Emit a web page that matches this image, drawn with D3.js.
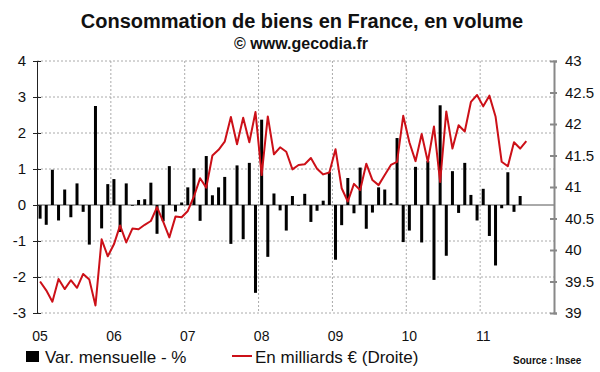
<!DOCTYPE html>
<html>
<head>
<meta charset="utf-8">
<script src="https://cdnjs.cloudflare.com/ajax/libs/d3/7.8.5/d3.min.js"></script>
<style>
  body { margin: 0; background: #fff; }
  svg { font-family: "Liberation Sans", Arial, sans-serif; }
</style>
</head>
<body>
<div class="chart"></div>
<script>
// monthly data, Jan 2005 onwards
var yearLabels = ["05", "06", "07", "08", "09", "10", "11"];

// Var. mensuelle - % (left axis), Jan 2005 - Jul 2011
var varMensuelle = [
  -0.38, -0.55, 0.98, -0.43, 0.43, -0.34, 0.60, -0.19, -1.10, 2.75, -0.65, 0.58,
  0.72, -0.75, 0.60, -0.02, 0.14, 0.16, 0.62, -0.80, -0.45, 1.08, -0.18, 0.07,
  0.49, 1.02, -0.44, 1.36, 0.27, 0.49, 0.78, -1.08, 1.10, -0.95, 1.17, -2.44,
  2.37, -1.44, 0.32, -0.15, -0.71, 0.25, -0.02, 0.31, -0.47, -0.16, 0.12, 0.92,
  -1.52, -0.56, 0.75, -0.23, 1.04, -0.66, -0.21, 0.49, 0.43, 0.05, 1.86, -1.03,
  -0.71, 1.06, -1.04, 1.22, -2.08, 2.77, -1.41, 0.94, -0.22, 1.17, 0.28, -0.43,
  0.45, -0.86, -1.68, -0.09, 0.91, -0.19, 0.25
];

// En milliards € (Droite), Jan 2005 - Aug 2011
var milliards = [
  39.50, 39.36, 39.18, 39.54, 39.38, 39.52, 39.40, 39.62, 39.53, 39.12, 40.17, 39.90,
  40.09, 40.39, 40.12, 40.34, 40.33, 40.40, 40.46, 40.68, 40.45, 40.20, 40.53, 40.52,
  40.62, 40.85, 41.14, 40.99, 41.50, 41.59, 41.72, 42.11, 41.68, 42.10, 41.71, 42.19,
  41.19, 42.12, 41.52, 41.63, 41.56, 41.28, 41.35, 41.36, 41.46, 41.29, 41.20, 41.23,
  41.60, 40.98, 40.77, 41.05, 40.95, 41.37, 41.11, 41.03, 41.19, 41.35, 41.40, 42.13,
  41.71, 41.41, 41.84, 41.40, 41.96, 41.08, 42.20, 41.61, 41.98, 41.88, 42.35, 42.46,
  42.28, 42.45, 42.12, 41.40, 41.33, 41.71, 41.61, 41.73
];

var leftTicks = [-3, -2, -1, 0, 1, 2, 3, 4];
var rightTicks = [39, 39.5, 40, 40.5, 41, 41.5, 42, 42.5, 43];

var svgWidth = 600, svgHeight = 372;
var margin = { top: 61, right: 554, bottom: 313, left: 37 };

var svg = d3.select(".chart")
            .append("svg")
            .attr("width", svgWidth)
            .attr("height", svgHeight);

// scales
var xScale = d3.scaleLinear().domain([0, 84]).range([margin.left, margin.right]);
var yLeft = d3.scaleLinear().domain([-3, 4]).range([margin.bottom, margin.top]);
var yRight = d3.scaleLinear().domain([39, 43]).range([margin.bottom, margin.top]);

// title
svg.append("text")
   .attr("x", 302).attr("y", 28)
   .attr("text-anchor", "middle")
   .attr("font-size", "20px").attr("font-weight", "bold")
   .attr("fill", "#111")
   .text("Consommation de biens en France, en volume");

svg.append("text")
   .attr("x", 301).attr("y", 49)
   .attr("text-anchor", "middle")
   .attr("font-size", "16px").attr("font-weight", "bold")
   .attr("fill", "#111")
   .text("© www.gecodia.fr");

// grid
var grid = svg.append("g");
grid.selectAll(".hgrid")
    .data(leftTicks.filter(d => d !== 0))
    .enter()
    .append("line")
    .attr("x1", margin.left).attr("x2", margin.right)
    .attr("y1", d => yLeft(d)).attr("y2", d => yLeft(d))
    .attr("stroke", "#aaa").attr("stroke-width", 1)
    .attr("stroke-dasharray", "2,2");

grid.selectAll(".vgrid")
    .data(d3.range(1, 7))
    .enter()
    .append("line")
    .attr("x1", d => xScale(d * 12)).attr("x2", d => xScale(d * 12))
    .attr("y1", margin.top).attr("y2", margin.bottom)
    .attr("stroke", "#aaa").attr("stroke-width", 1)
    .attr("stroke-dasharray", "2,2");

// zero line
svg.append("line")
   .attr("x1", margin.left).attr("x2", margin.right)
   .attr("y1", yLeft(0)).attr("y2", yLeft(0))
   .attr("stroke", "#555").attr("stroke-width", 1);

// bars
svg.append("g")
   .selectAll("rect")
   .data(varMensuelle)
   .enter()
   .append("rect")
   .attr("x", (d, i) => xScale(i + 0.5) - 1.5)
   .attr("width", 3)
   .attr("y", d => yLeft(Math.max(d, 0)))
   .attr("height", d => Math.abs(yLeft(d) - yLeft(0)))
   .attr("fill", "#000");

// line
var line = d3.line()
             .x((d, i) => xScale(i + 0.5))
             .y(d => yRight(d));

svg.append("path")
   .datum(milliards)
   .attr("d", line)
   .attr("fill", "none")
   .attr("stroke", "#cc1018")
   .attr("stroke-width", 2)
   .attr("stroke-linejoin", "round");

// left axis
var leftAxis = d3.axisLeft(yLeft).tickValues(leftTicks)
                 .tickFormat(d => String(d))
                 .tickSize(4).tickPadding(7);
var gl = svg.append("g")
            .attr("transform", `translate(${margin.left}, 0)`)
            .call(leftAxis);
gl.select(".domain").attr("stroke", "#222");
gl.selectAll(".tick line").attr("x1", 4).attr("stroke", "#222");
gl.selectAll(".tick text")
  .attr("font-size", "15px").attr("font-family", "Liberation Sans, Arial, sans-serif")
  .attr("fill", "#111");

// right axis
var rightAxis = d3.axisRight(yRight).tickValues(rightTicks)
                  .tickFormat(d => String(d))
                  .tickSize(3).tickPadding(8);
var gr = svg.append("g")
            .attr("transform", `translate(${margin.right}, 0)`)
            .call(rightAxis);
gr.select(".domain").attr("stroke", "#888").attr("stroke-width", 2);
gr.selectAll(".tick line").attr("x1", -4).attr("stroke", "#888").attr("stroke-width", 2);
gr.selectAll(".tick text")
  .attr("font-size", "15px").attr("font-family", "Liberation Sans, Arial, sans-serif")
  .attr("fill", "#111");

// year labels
svg.append("g")
   .selectAll("text")
   .data(yearLabels)
   .enter()
   .append("text")
   .attr("x", (d, i) => xScale(i * 12 + 0.5))
   .attr("y", 341)
   .attr("text-anchor", "middle")
   .attr("font-size", "14px")
   .attr("fill", "#111")
   .text(d => d);

// legend
var legend = svg.append("g");
legend.append("rect")
      .attr("x", 26).attr("y", 351).attr("width", 13).attr("height", 11)
      .attr("fill", "#000");
legend.append("text")
      .attr("x", 45).attr("y", 363)
      .attr("font-size", "17px").attr("fill", "#111")
      .text("Var. mensuelle - %");
legend.append("line")
      .attr("x1", 232).attr("x2", 252)
      .attr("y1", 356).attr("y2", 356)
      .attr("stroke", "#cc1018").attr("stroke-width", 2);
legend.append("text")
      .attr("x", 255).attr("y", 363)
      .attr("font-size", "17px").attr("fill", "#111")
      .text("En milliards € (Droite)");
legend.append("text")
      .attr("x", 513).attr("y", 364)
      .attr("font-size", "10px").attr("font-weight", "bold").attr("fill", "#111")
      .text("Source : Insee");
</script>
</body>
</html>
